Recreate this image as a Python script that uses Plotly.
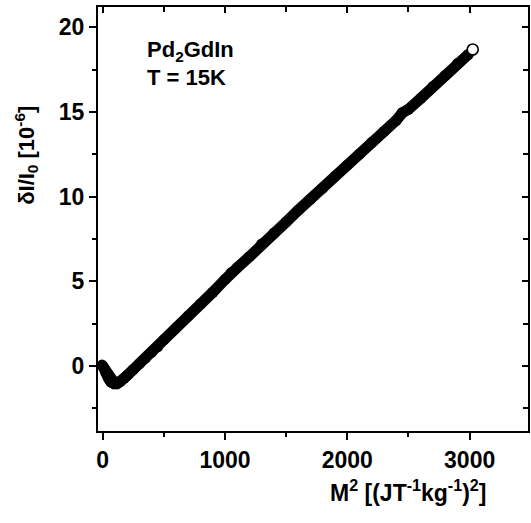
import plotly.graph_objects as go

# M^2 values [(J T^-1 kg^-1)^2] and relative change dI/I0 [10^-6]
m2 = [-5, 5, 15, 25, 35, 45, 55, 65, 75, 85, 100, 115, 130, 150, 175, 200, 250, 300,
      350, 400, 450, 502, 600, 700, 800, 900, 1000, 1050, 1100, 1200, 1300, 1400, 1500,
      1600, 1700, 1800, 1900, 2000, 2100, 2200, 2300, 2400, 2450, 2500, 2600, 2700,
      2800, 2900, 2990, 3025]
di = [0.05, -0.05, -0.2, -0.38, -0.55, -0.7, -0.82, -0.92, -0.98, -1.02, -1.05, -1.05,
      -1.0, -0.9, -0.73, -0.56, -0.22, 0.12, 0.46, 0.8, 1.13, 1.55, 2.25, 2.95, 3.65,
      4.35, 5.1, 5.5, 5.8, 6.45, 7.2, 7.85, 8.5, 9.2, 9.85, 10.5, 11.2, 11.85, 12.5,
      13.2, 13.85, 14.5, 14.95, 15.15, 15.8, 16.5, 17.15, 17.85, 18.4, 18.68]

x_ticks = [0, 1000, 2000, 3000]
y_ticks = [0, 5, 10, 15, 20]
x_range = [-46, 3485]
y_range = [-3.9, 21.25]

FONT = "Liberation Sans, Arial, Helvetica, sans-serif"
tfont = dict(family=FONT, size=23, color="black", weight="bold")

fig = go.Figure()
fig.add_trace(go.Scatter(
    x=m2[:-1], y=di[:-1], mode="lines+markers",
    line=dict(color="black", width=11),
    marker=dict(color="black", size=11),
    xaxis="x", yaxis="y", showlegend=False, hoverinfo="skip"))
fig.add_trace(go.Scatter(
    x=m2[-1:], y=di[-1:], mode="markers",
    marker=dict(color="white", size=11, line=dict(color="black", width=1.6)),
    xaxis="x2", yaxis="y2", showlegend=False, hoverinfo="skip"))

common = dict(showgrid=False, zeroline=False, tickcolor="black", tickwidth=2,
              showline=False)

fig.update_layout(
    width=531, height=523,
    margin=dict(l=97, r=2, t=6, b=91),
    paper_bgcolor="white", plot_bgcolor="white",
    font=dict(family=FONT, color="black"),
    xaxis=dict(range=x_range, tickvals=x_ticks, ticktext=[str(v) for v in x_ticks],
               ticks="outside", ticklen=7, tickfont=tfont,
               minor=dict(dtick=500, tick0=0, ticks="outside", ticklen=4, tickwidth=2,
                          tickcolor="black"), **common),
    yaxis=dict(range=y_range, tickvals=y_ticks, ticktext=[str(v) for v in y_ticks],
               ticks="outside", ticklen=7, tickfont=tfont,
               minor=dict(dtick=2.5, tick0=0, ticks="outside", ticklen=4, tickwidth=2,
                          tickcolor="black"), **common),
    xaxis2=dict(range=x_range, overlaying="x", side="top", anchor="y2",
                tickvals=x_ticks, ticks="inside", ticklen=7, showticklabels=False,
                minor=dict(dtick=500, tick0=0, ticks="inside", ticklen=6, tickwidth=2,
                           tickcolor="black"), **common),
    yaxis2=dict(range=y_range, overlaying="y", side="right", anchor="x2",
                tickvals=y_ticks, ticks="inside", ticklen=7, showticklabels=False,
                minor=dict(dtick=2.5, tick0=0, ticks="inside", ticklen=6, tickwidth=2,
                           tickcolor="black"), **common),
)

# plot frame
fig.add_shape(type="rect", xref="paper", yref="paper", x0=0, y0=0, x1=1, y1=1,
              line=dict(color="black", width=2), fillcolor="rgba(0,0,0,0)", layer="above")

afont = dict(family=FONT, size=22, color="black", weight="bold")
fig.add_annotation(text="δI/I<sub>0</sub> [10<sup>-6</sup>]", textangle=-90,
                   xref="paper", yref="paper", x=-0.165, y=0.65,
                   xanchor="center", yanchor="middle", showarrow=False, font=afont)
fig.add_annotation(text="M<sup>2</sup> [(JT<sup>-1</sup>kg<sup>-1</sup>)<sup>2</sup>]",
                   xref="paper", yref="paper", x=0.72, y=-0.1385,
                   xanchor="center", yanchor="middle", showarrow=False,
                   font=dict(family=FONT, size=23, color="black", weight="bold"))
fig.add_annotation(text="Pd<sub>2</sub>GdIn", xref="paper", yref="paper",
                   x=0.111, y=0.895, xanchor="left", yanchor="middle",
                   showarrow=False, font=afont)
fig.add_annotation(text="T = 15K", xref="paper", yref="paper",
                   x=0.111, y=0.831, xanchor="left", yanchor="middle",
                   showarrow=False, font=afont)

fig.write_html("out.html", config={"displayModeBar": False},
               post_script="document.body.style.margin='0';document.body.style.padding='0';")
